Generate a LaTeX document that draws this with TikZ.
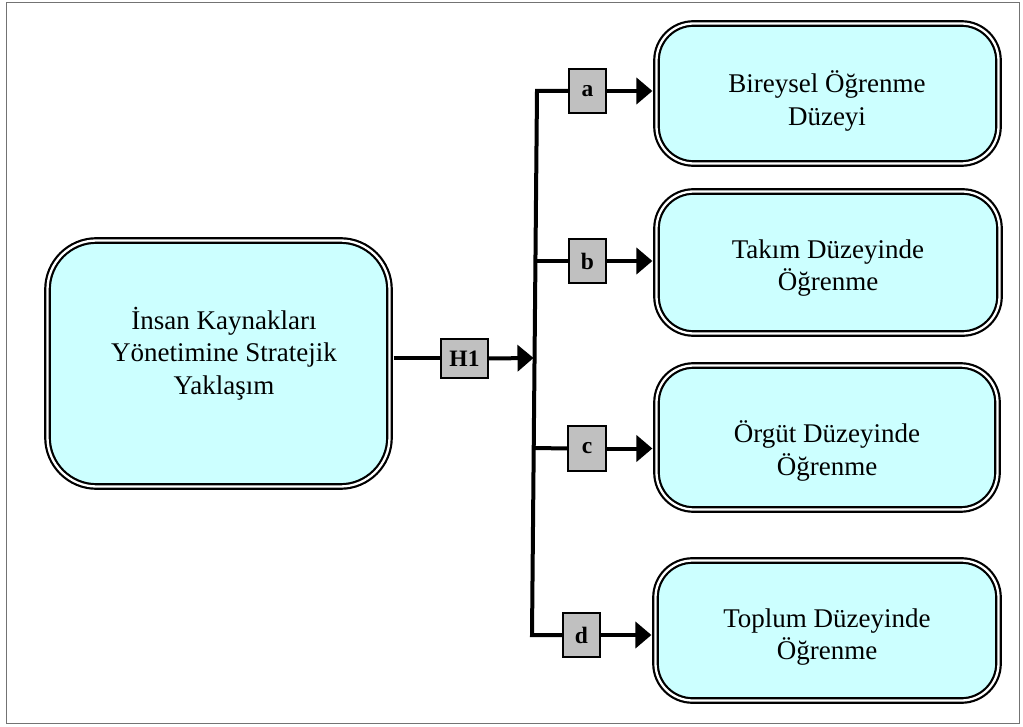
\documentclass[tikz,border=0pt]{standalone}
\usepackage{fontspec}
\setmainfont{Liberation Serif}
\usetikzlibrary{arrows.meta}
\definecolor{boxfill}{HTML}{CCFFFF}
\definecolor{tagfill}{HTML}{C0C0C0}

\begin{document}
\begin{tikzpicture}[x=1pt,y=-1pt,
  stage/.style={draw, line width=2.2pt, double=white, double distance=2.3pt,
    fill=boxfill, rounded corners=37pt, inner sep=0pt},
  stagetext/.style={align=center, inner sep=0pt,
    font=\fontsize{27}{32.5}\selectfont},
  tag/.style={draw, line width=1.3pt, fill=tagfill, inner sep=0pt,
    font=\fontsize{23.5}{23.5}\selectfont\bfseries},
  link/.style={line width=4pt},
  arr/.style={link, -{Triangle[length=16pt,width=26pt]}, shorten >=3pt}
]
\useasboundingbox (0,0) rectangle (1023,727);
\draw[line width=1pt, black!55] (6,3) rectangle (1019,723);

% main boxes
\node[stage, rounded corners=49pt, minimum width=342pt, minimum height=246pt]
  (L) at (218.5,363.5) {};
\node[stage, minimum width=342pt, minimum height=140pt] (A) at (827.5,93.5) {};
\node[stage, minimum width=343pt, minimum height=142pt] (B) at (828,262.5) {};
\node[stage, minimum width=341pt, minimum height=144pt] (C) at (827,437.5) {};
\node[stage, minimum width=343pt, minimum height=140pt] (D) at (827,630.5) {};

\node[stagetext] (Lt) at (224,353.5) {İnsan Kaynakları\\Yönetimine Stratejik\\Yaklaşım};
\node[stagetext] (At) at (827,101) {Bireysel Öğrenme\\Düzeyi};
\node[stagetext] (Bt) at (828,268) {Takım Düzeyinde\\Öğrenme};
\node[stagetext] (Ct) at (827,451) {Örgüt Düzeyinde\\Öğrenme};
\node[stagetext] (Dt) at (827,637) {Toplum Düzeyinde\\Öğrenme};

% hypothesis tags
\node[tag, minimum width=47pt, minimum height=39pt] (h1) at (464.5,358.5) {H1};
\node[tag, minimum width=37pt, minimum height=44pt] (a) at (587.5,91) {a};
\node[tag, minimum width=37pt, minimum height=44pt] (b) at (587.5,261) {b};
\node[tag, minimum width=38pt, minimum height=45pt] (c) at (587,448.5) {c};
\node[tag, minimum width=37pt, minimum height=44pt] (d) at (581.5,635) {d};

% trunk points
\coordinate (ta) at (537,91);
\coordinate (tb) at (536,261);
\coordinate (tc) at (535,448);
\coordinate (td) at (532,635);
\coordinate (th) at (533.5,358);

% connectors
\draw[link, shorten <=3pt] (L.east |- h1.west) -- (h1.west);
\draw[arr, shorten >=0pt] (h1.east) -- (th);
\draw[link] (a.west) -- (ta) -- (td) -- (d.west);
\draw[link] (tb) -- (b.west);
\draw[link] (tc) -- (c.west);
\draw[arr] (a.east) -- (a.east -| A.west);
\draw[arr] (b.east) -- (b.east -| B.west);
\draw[arr] (c.east) -- (c.east -| C.west);
\draw[arr] (d.east) -- (d.east -| D.west);
\end{tikzpicture}
\end{document}
